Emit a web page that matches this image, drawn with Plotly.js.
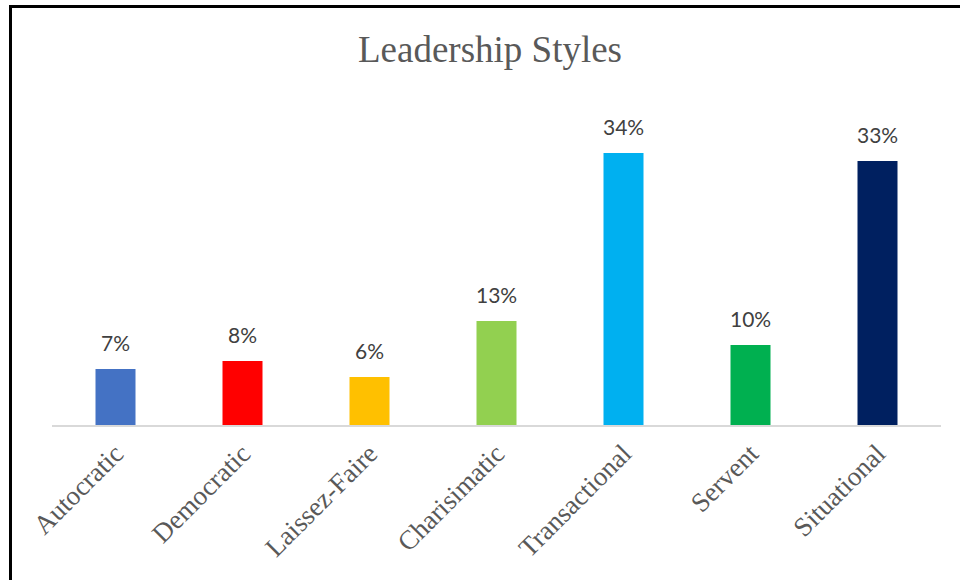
<!DOCTYPE html>
<html>
<head>
<meta charset="utf-8">
<script src="https://cdn.plot.ly/plotly-3.0.1.min.js"></script>
<style>
  html, body { margin: 0; padding: 0; background: #fff; }
  #wrap { position: relative; width: 960px; height: 580px; overflow: hidden; }
  #chart { width: 960px; height: 580px; }
  #frame { position: absolute; left: 9px; top: 5px; width: 1000px; height: 600px;
           border-left: 3px solid #000; border-top: 3px solid #000; pointer-events: none; }
</style>
</head>
<body>
<div id="wrap">
  <div id="chart"></div>
  <div id="frame"></div>
</div>
<script>
const categories = ["Autocratic", "Democratic", "Laissez-Faire", "Charisimatic", "Transactional", "Servent", "Situational"];
const values = [7, 8, 6, 13, 34, 10, 33];
const labels = ["7%", "8%", "6%", "13%", "34%", "10%", "33%"];
const colors = ["#4472C4", "#FF0000", "#FFC000", "#92D050", "#00B0F0", "#00B050", "#002060"];

const trace = {
  type: "bar",
  x: categories,
  y: values,
  marker: { color: colors },
  hoverinfo: "skip"
};

const annotations = categories.map((c, i) => ({
  x: c, y: values[i], xref: "x", yref: "y",
  text: labels[i], showarrow: false,
  yanchor: "bottom", yshift: 12,
  font: { family: "Lato, 'Open Sans', sans-serif", size: 21, color: "#404040" }
}));

const layout = {
  width: 960, height: 580,
  margin: { l: 52, r: 19, t: 105, b: 155 },
  paper_bgcolor: "#fff", plot_bgcolor: "#fff",
  bargap: 0.685,
  showlegend: false,
  title: {
    text: "Leadership Styles",
    font: { family: "'Liberation Serif', 'Times New Roman', serif", size: 37, color: "#595959" },
    x: 0.5104, xanchor: "center", xref: "container",
    y: 0.915, yanchor: "middle", yref: "container"
  },
  xaxis: {
    showline: true, linecolor: "#D9D9D9", linewidth: 2,
    showgrid: false, zeroline: false, ticks: "",
    tickangle: -45,
    tickfont: { family: "'Liberation Serif', 'Times New Roman', serif", size: 27, color: "#595959" },
    fixedrange: true
  },
  yaxis: { visible: false, range: [0, 40], fixedrange: true },
  annotations: annotations
};

Plotly.newPlot("chart", [trace], layout, { displayModeBar: false, staticPlot: true });
</script>
</body>
</html>
